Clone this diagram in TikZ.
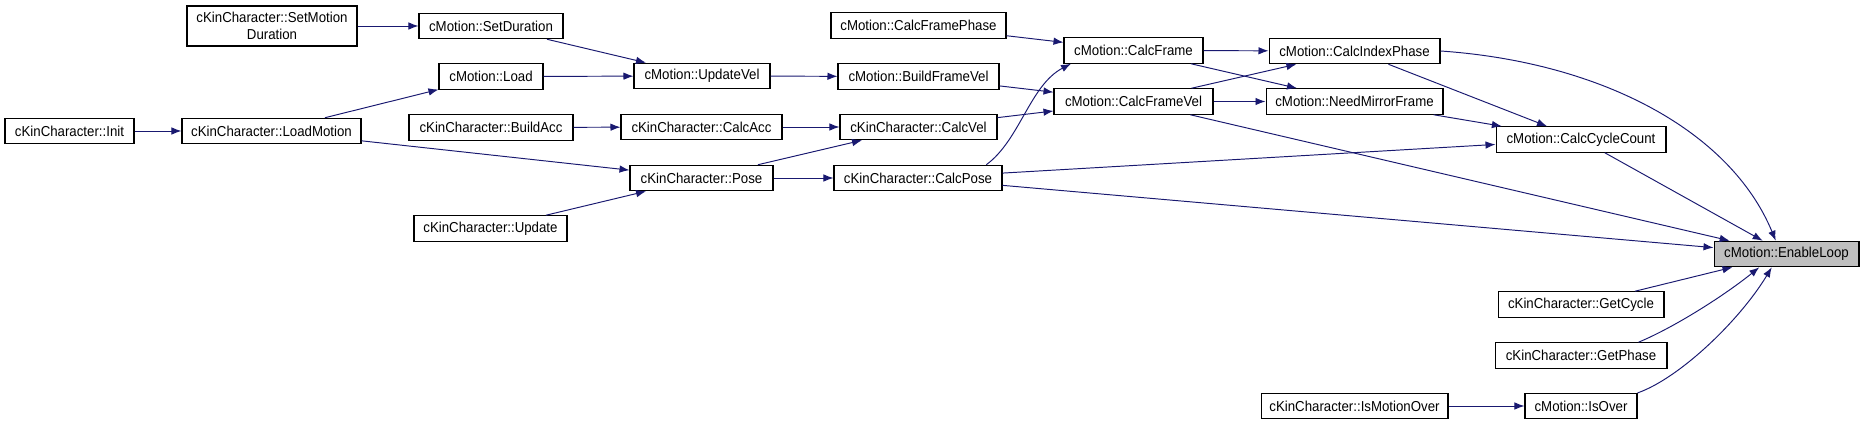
\documentclass[tikz,border=0pt]{standalone}
\definecolor{EdgeNavy}  {RGB}{25,25,112}
\definecolor{FocusGrey} {RGB}{191,191,191}
\usepackage{fontspec}
\setmainfont[FakeStretch=0.92]{Liberation Sans}
\usetikzlibrary{arrows.meta}

\begin{document}
\begin{tikzpicture}[x=0.02cm,y=-0.02cm,
  box/.style={draw,line width=0.6pt,font=\fontsize{8.2}{9.4}\selectfont,
              minimum height=0.51cm,inner sep=1pt,
              align=center},
  link/.style={-{Latex[length=0.2cm,width=0.15cm]},EdgeNavy,line width=0.55pt}]
  \useasboundingbox (0,0) rectangle (1864,425);
  % callers, left to right
  \node[box,minimum width=2.58cm] (init) at (69.5,131) {cKinCharacter::Init};
  \node[box,minimum width=3.40cm,minimum height=0.8cm] (smd) at (272,26)
        {cKinCharacter::SetMotion\\Duration};
  \node[box,minimum width=3.58cm] (lmot) at (271.5,131) {cKinCharacter::LoadMotion};
  \node[box,minimum width=2.88cm] (sdur) at (491,26) {cMotion::SetDuration};
  \node[box,minimum width=2.08cm] (load) at (491,76.5) {cMotion::Load};
  \node[box,minimum width=3.28cm] (bacc) at (491,127.5) {cKinCharacter::BuildAcc};
  \node[box,minimum width=3.06cm] (upd) at (490.5,228.5) {cKinCharacter::Update};
  \node[box,minimum width=2.72cm] (uvel) at (702,76) {cMotion::UpdateVel};
  \node[box,minimum width=3.22cm] (cacc) at (701.5,127) {cKinCharacter::CalcAcc};
  \node[box,minimum width=2.86cm] (pose) at (701.5,178) {cKinCharacter::Pose};
  \node[box,minimum width=3.50cm] (cfp) at (918.5,25.5) {cMotion::CalcFramePhase};
  \node[box,minimum width=3.22cm] (bfv) at (918.5,76.5) {cMotion::BuildFrameVel};
  \node[box,minimum width=3.14cm] (cvel) at (918.5,127) {cKinCharacter::CalcVel};
  \node[box,minimum width=3.36cm] (cpose) at (918,178) {cKinCharacter::CalcPose};
  \node[box,minimum width=2.78cm] (cfr) at (1133.5,50.5) {cMotion::CalcFrame};
  \node[box,minimum width=3.18cm] (cfv) at (1133.5,101.5) {cMotion::CalcFrameVel};
  \node[box,minimum width=3.42cm] (cip) at (1354.5,51) {cMotion::CalcIndexPhase};
  \node[box,minimum width=3.54cm] (nmf) at (1354.5,101.5) {cMotion::NeedMirrorFrame};
  \node[box,minimum width=3.74cm] (imo) at (1354.5,406) {cKinCharacter::IsMotionOver};
  \node[box,minimum width=3.40cm] (ccc) at (1581,139.5) {cMotion::CalcCycleCount};
  \node[box,minimum width=3.32cm] (gcyc) at (1581,304.5) {cKinCharacter::GetCycle};
  \node[box,minimum width=3.44cm] (gph) at (1581,355.5) {cKinCharacter::GetPhase};
  \node[box,minimum width=2.24cm] (iso) at (1581,406) {cMotion::IsOver};
  \node[box,minimum width=2.90cm,fill=FocusGrey] (enl) at (1786.5,254)
        {cMotion::EnableLoop};
  % calls
  \draw[link] (smd) -- (sdur);
  \draw[link] (sdur) -- (uvel);
  \draw[link] (load) -- (uvel);
  \draw[link] (init) -- (lmot);
  \draw[link] (lmot) -- (load);
  \draw[link] (lmot) -- (pose);
  \draw[link] (bacc) -- (cacc);
  \draw[link] (upd) -- (pose);
  \draw[link] (uvel) -- (bfv);
  \draw[link] (cacc) -- (cvel);
  \draw[link] (pose) -- (cvel);
  \draw[link] (pose) -- (cpose);
  \draw[link] (cfp) -- (cfr);
  \draw[link] (bfv) -- (cfv);
  \draw[link] (cvel) -- (cfv);
  \draw[link] (cpose.11) .. controls (1020,140) and (1030,85) .. (cfr.192);
  \draw[link] (cfr) -- (cip);
  \draw[link] (cfr) -- (nmf);
  \draw[link] (cfv) -- (cip);
  \draw[link] (cfv) -- (nmf);
  \draw[link] (cfv) -- (enl);
  \draw[link] (cip) -- (ccc);
  \draw[link] (cip.east) .. controls (1600,62) and (1730,130) .. (enl.129);
  \draw[link] (nmf) -- (ccc);
  \draw[link] (cpose) -- (ccc);
  \draw[link] (cpose) -- (enl);
  \draw[link] (ccc) -- (enl);
  \draw[link] (gcyc) -- (enl);
  \draw[link] (gph.13) .. controls (1675,327) and (1725,295) .. (enl.206);
  \draw[link] (iso.13) .. controls (1680,378) and (1740,320) .. (enl.222);
  \draw[link] (imo) -- (iso);
\end{tikzpicture}
\end{document}
